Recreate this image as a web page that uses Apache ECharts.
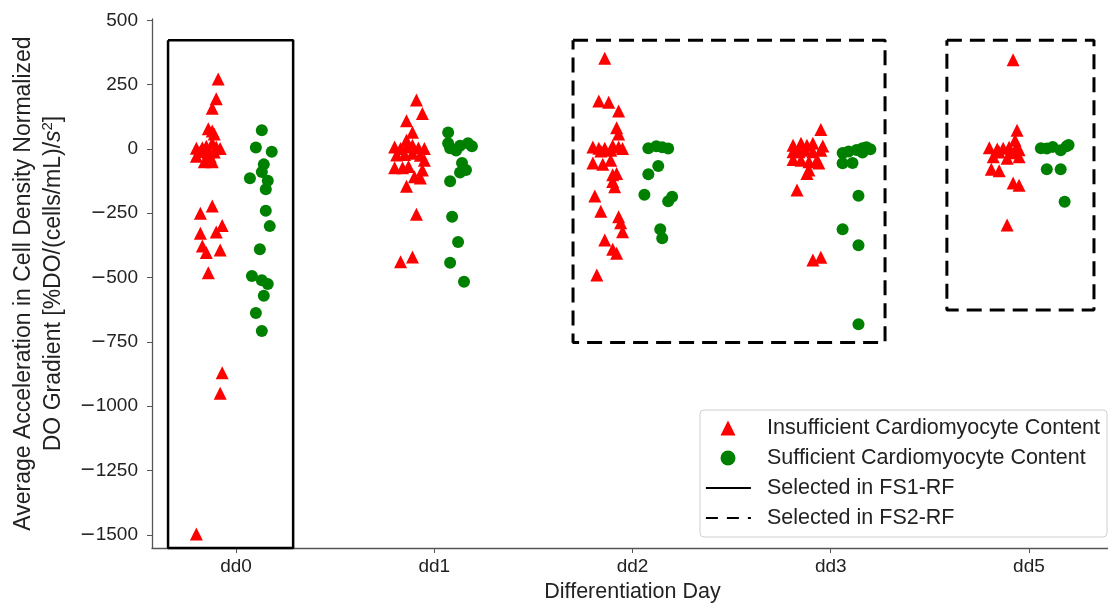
<!DOCTYPE html>
<html>
<head>
<meta charset="utf-8">
<script src="https://cdn.jsdelivr.net/npm/echarts@6/dist/echarts.min.js"></script>
<style>
  html, body { margin: 0; padding: 0; background: #fff; }
  #chart { width: 1108px; height: 604px; }
</style>
</head>
<body>
<div id="chart"></div>
<script>
// categories on the x axis (index 0..4)
var days = ['dd0', 'dd1', 'dd2', 'dd3', 'dd5'];
var yTicks = [-1500, -1250, -1000, -750, -500, -250, 0, 250, 500];

// [x (category index + jitter), value]
var dd0Insufficient = [[-0.09,272],[-0.10,195],[-0.12,158],[-0.14,78],[-0.12,70],[-0.11,58],[-0.20,3],[-0.18,-10],[-0.17,5],[-0.15,10],[-0.12,22],[-0.10,8],[-0.08,2],[-0.14,-15],[-0.20,-28],[-0.16,-50],[-0.12,-50],[-0.13,-30],[-0.11,-12],[-0.18,-250],[-0.12,-222],[-0.07,-298],[-0.10,-323],[-0.18,-328],[-0.17,-377],[-0.15,-403],[-0.08,-393],[-0.14,-481],[-0.07,-870],[-0.08,-950],[-0.20,-1497]];
var dd0Sufficient = [[0.13,73],[0.10,6],[0.18,-11],[0.14,-60],[0.13,-90],[0.07,-114],[0.16,-124],[0.15,-157],[0.15,-240],[0.17,-300],[0.12,-390],[0.08,-494],[0.13,-510],[0.16,-525],[0.14,-571],[0.10,-638],[0.13,-708]];

var dd1Insufficient = [[0.91,190],[0.94,138],[0.86,110],[0.89,65],[0.86,34],[0.80,8],[0.83,2],[0.86,8],[0.89,14],[0.92,4],[0.95,2],[0.81,-24],[0.85,-22],[0.89,-17],[0.93,-25],[0.95,-44],[0.80,-73],[0.84,-73],[0.87,-68],[0.94,-82],[0.90,-108],[0.93,-113],[0.86,-145],[0.91,-254],[0.83,-438],[0.89,-420]];
var dd1Sufficient = [[1.07,64],[1.07,22],[1.08,3],[1.11,-6],[1.13,12],[1.17,22],[1.19,10],[1.14,-55],[1.16,-82],[1.13,-92],[1.08,-126],[1.09,-264],[1.12,-362],[1.08,-442],[1.15,-516]];

var dd2Insufficient = [[1.86,352],[1.83,186],[1.88,181],[1.93,147],[1.92,82],[1.93,58],[1.80,8],[1.83,3],[1.86,3],[1.90,12],[1.93,8],[1.95,2],[1.84,-8],[1.89,-5],[1.80,-55],[1.85,-60],[1.89,-44],[1.90,-100],[1.92,-95],[1.90,-127],[1.91,-147],[1.81,-183],[1.84,-242],[1.93,-264],[1.94,-287],[1.95,-322],[1.86,-354],[1.90,-390],[1.92,-405],[1.82,-490]];
var dd2Sufficient = [[2.08,3],[2.12,10],[2.15,7],[2.18,2],[2.08,-98],[2.13,-66],[2.06,-178],[2.18,-203],[2.20,-186],[2.14,-312],[2.15,-347]];

var dd3Insufficient = [[2.95,76],[2.81,14],[2.85,22],[2.88,14],[2.91,22],[2.96,11],[2.81,-11],[2.84,-11],[2.87,-5],[2.91,-11],[2.95,-5],[2.81,-41],[2.85,-44],[2.89,-50],[2.93,-44],[2.94,-55],[2.89,-82],[2.88,-95],[2.83,-160],[2.91,-432],[2.95,-421]];
var dd3Sufficient = [[3.06,-16],[3.09,-10],[3.13,-4],[3.16,3],[3.18,7],[3.20,-1],[3.16,-14],[3.06,-56],[3.11,-55],[3.14,-182],[3.06,-312],[3.14,-374],[3.14,-681]];

var dd5Insufficient = [[3.92,347],[3.94,73],[3.93,34],[3.80,5],[3.84,0],[3.87,3],[3.90,7],[3.94,10],[3.95,-3],[3.82,-30],[3.89,-36],[3.95,-30],[3.81,-79],[3.85,-85],[3.92,-132],[3.95,-141],[3.89,-296],[3.85,-12],[3.91,-15]];
var dd5Sufficient = [[4.06,3],[4.09,2],[4.12,8],[4.16,-5],[4.19,10],[4.20,15],[4.09,-79],[4.16,-79],[4.18,-205]];

// selection boxes: [xLeft, xRight, yTop, yBottom]
var fs1Box = [-0.343, 0.288, 422, -1551];
var fs2Boxes = [[1.70, 3.274, 422, -752], [3.586, 4.328, 422, -626]];

var insufficient = [].concat(dd0Insufficient, dd1Insufficient, dd2Insufficient, dd3Insufficient, dd5Insufficient);
var sufficient = [].concat(dd0Sufficient, dd1Sufficient, dd2Sufficient, dd3Sufficient, dd5Sufficient);

function rect(b) {
  return [[b[0], b[2]], [b[1], b[2]], [b[1], b[3]], [b[0], b[3]], [b[0], b[2]]];
}

var font = 'Liberation Sans, Arial, sans-serif';
var chart = echarts.init(document.getElementById('chart'));

var series = [
  {
    name: 'Insufficient Cardiomyocyte Content',
    type: 'scatter',
    symbol: 'triangle',
    symbolSize: 13,
    itemStyle: { color: '#ff0000', opacity: 1 },
    data: insufficient
  },
  {
    name: 'Sufficient Cardiomyocyte Content',
    type: 'scatter',
    symbol: 'circle',
    symbolSize: 12,
    itemStyle: { color: '#008000', opacity: 1 },
    data: sufficient
  },
  {
    name: 'Selected in FS1-RF',
    type: 'line',
    symbol: 'none',
    clip: false,
    lineStyle: { color: '#000', width: 2.5, type: 'solid' },
    itemStyle: { color: '#000' },
    data: rect(fs1Box)
  }
];
fs2Boxes.forEach(function (b) {
  series.push({
    name: 'Selected in FS2-RF',
    type: 'line',
    symbol: 'none',
    clip: false,
    lineStyle: { color: '#000', width: 3, type: [15, 8] },
    itemStyle: { color: '#000' },
    data: rect(b)
  });
});

var legendText = { fontFamily: font, fontSize: 21.5, color: '#222', lineHeight: 22 };

chart.setOption({
  animation: false,
  backgroundColor: '#fff',
  textStyle: { fontFamily: font },
  grid: { left: 152, right: -5, top: 19, bottom: 56, outerBoundsMode: 'none' },
  legend: [
    {
      // marker entries, also carries the frame of the whole legend
      orient: 'vertical',
      left: 700,
      top: 410,
      data: ['Insufficient Cardiomyocyte Content', 'Sufficient Cardiomyocyte Content'],
      itemWidth: 15,
      itemHeight: 15,
      itemGap: 8,
      padding: [7, 7, 68, 20.5],
      backgroundColor: '#fff',
      borderColor: '#d0d0d0',
      borderWidth: 1,
      borderRadius: 4,
      textStyle: Object.assign({ padding: [0, 0, 0, 26.5] }, legendText)
    },
    {
      // line entries
      orient: 'vertical',
      left: 705,
      top: 477,
      padding: 0,
      data: [
        { name: 'Selected in FS1-RF', itemStyle: { opacity: 0 }, lineStyle: { type: 'solid', width: 1.8, color: '#000' } },
        { name: 'Selected in FS2-RF', itemStyle: { opacity: 0 }, lineStyle: { type: [12, 9], width: 1.8, color: '#000' } }
      ],
      itemWidth: 45,
      itemHeight: 15,
      itemGap: 8,
      textStyle: Object.assign({ padding: [0, 0, 0, 11] }, legendText)
    }
  ],
  xAxis: {
    type: 'value',
    min: -0.424,
    max: 4.424,
    name: 'Differentiation Day',
    nameLocation: 'middle',
    nameGap: 33,
    nameTextStyle: { fontFamily: font, fontSize: 21.5, color: '#222' },
    axisLine: { onZero: false, lineStyle: { color: '#555', width: 1.3 } },
    axisTick: { customValues: [0, 1, 2, 3, 4], length: 5, lineStyle: { color: '#555' } },
    axisLabel: {
      customValues: [0, 1, 2, 3, 4],
      margin: 9,
      fontFamily: font,
      fontSize: 19,
      color: '#222',
      formatter: function (v) { return days[Math.round(v)]; }
    },
    splitLine: { show: false }
  },
  yAxis: {
    type: 'value',
    min: -1551,
    max: 505,
    name: 'Average Acceleration in Cell Density Normalized\nDO Gradient [%DO/(cells/mL)/{it|s}{sup|2}]',
    nameLocation: 'middle',
    nameGap: 83,
    nameTextStyle: {
      fontFamily: font, fontSize: 23, color: '#222', lineHeight: 30,
      rich: {
        it: { fontFamily: font, fontSize: 23, fontStyle: 'italic', color: '#222' },
        sup: { fontFamily: font, fontSize: 15, color: '#222', padding: [0, 0, 13, 0] }
      }
    },
    axisLine: { show: true, onZero: false, lineStyle: { color: '#555', width: 1.3 } },
    axisTick: { show: true, customValues: yTicks, length: 5, lineStyle: { color: '#555' } },
    axisLabel: {
      customValues: yTicks,
      margin: 14,
      fontFamily: font,
      fontSize: 19,
      color: '#222',
      rich: { m: { fontFamily: 'DejaVu Sans', fontSize: 19, color: '#222' } },
      formatter: function (v) { return v < 0 ? '{m|\u2212}' + (-v) : String(v); }
    },
    splitLine: { show: false }
  },
  series: series
});
</script>
</body>
</html>
